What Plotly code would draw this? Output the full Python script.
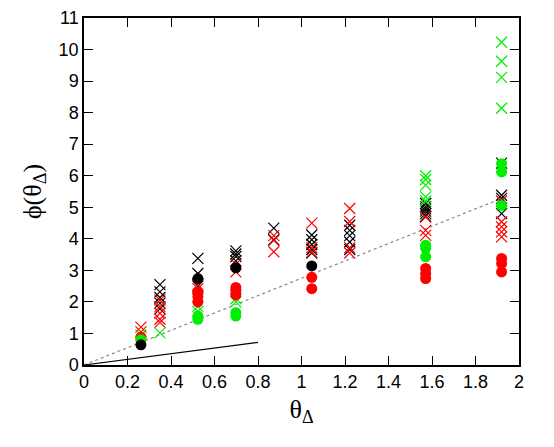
import plotly.graph_objects as go

# column positions (theta_Delta)
theta = [0.2618, 0.3491, 0.5236, 0.6981, 0.8727, 1.0472, 1.2217, 1.5708, 1.9199]

# phi values per column index, for each series
black_cross = {1: [2.55, 2.32, 2.14, 1.96, 1.78], 2: [3.38, 2.9, 2.5],
               3: [3.62, 3.52, 3.44, 3.3], 4: [4.34, 3.97],
               5: [4.12, 3.97, 3.82, 3.66, 3.55], 6: [4.43, 4.27, 4.1, 3.9, 3.66],
               7: [5.12, 5.02, 4.95, 4.88, 4.8, 4.72], 8: [6.4, 5.38, 5.28, 4.8]}
red_cross = {0: [1.2, 1.05], 1: [2.06, 1.85, 1.64, 1.45, 1.35], 2: [2.55, 2.42],
             3: [3.2, 2.95], 4: [4.1, 3.95, 3.59], 5: [4.5, 3.72, 3.58],
             6: [4.96, 4.55, 3.72, 3.55], 7: [4.69, 4.27, 4.11],
             8: [5.2, 4.54, 4.38, 4.22, 4.06]}
green_cross = {0: [0.95], 1: [1.02], 2: [1.85, 1.7], 3: [2.1, 2.0],
               7: [6.0, 5.88, 5.7, 5.33, 5.2], 8: [10.23, 9.63, 9.12, 8.14]}
red_dot = {0: [0.88], 2: [2.3, 2.17, 2.0], 3: [2.46, 2.36, 2.22], 5: [2.78, 2.42],
           7: [3.06, 2.9, 2.74], 8: [3.38, 3.22, 2.95]}
green_dot = {0: [0.8], 2: [1.55, 1.45], 3: [1.66, 1.55], 7: [3.8, 3.7, 3.43],
             8: [6.38, 6.12, 5.06]}
black_dot = {0: [0.64], 2: [2.74], 3: [3.08], 5: [3.14]}

# guide lines
dotted_x = [0, 1.92]
dotted_y = [0, 5.28]
solid_x = [0, 0.8]
solid_y = [0, 0.72]

y_ticks = list(range(0, 12))


def flatten(d):
    xs, ys = [], []
    for i, vals in d.items():
        for v in vals:
            xs.append(theta[i])
            ys.append(v)
    return xs, ys


fig = go.Figure()

fig.add_trace(go.Scatter(x=dotted_x, y=dotted_y, mode='lines',
                         line=dict(color='#888888', width=1.2, dash='dot')))
fig.add_trace(go.Scatter(x=solid_x, y=solid_y, mode='lines',
                         line=dict(color='black', width=1.2)))

for d, col in [(black_cross, 'black'), (red_cross, '#ff0000'), (green_cross, '#00ee00')]:
    xs, ys = flatten(d)
    fig.add_trace(go.Scatter(x=xs, y=ys, mode='markers',
                             marker=dict(symbol='x-thin', size=11,
                                         line=dict(color=col, width=1.2))))

for d, col in [(red_dot, '#ff0000'), (green_dot, '#00ee00'), (black_dot, 'black')]:
    xs, ys = flatten(d)
    fig.add_trace(go.Scatter(x=xs, y=ys, mode='markers',
                             marker=dict(symbol='circle', size=11, color=col)))

axis_common = dict(showgrid=False, zeroline=False, showline=True, linecolor='black',
                   linewidth=1.5, mirror='ticks', ticks='inside', ticklen=9,
                   tickcolor='black', tickwidth=1, automargin=False,
                   tickfont=dict(family='Liberation Sans', size=18, color='black'))

fig.update_layout(
    width=554, height=447,
    margin=dict(l=76, r=43, t=10, b=90),
    plot_bgcolor='white', paper_bgcolor='white',
    showlegend=False,
    xaxis=dict(range=[0, 2], dtick=0.2, tick0=0,
               title=dict(text='θ<sub>Δ</sub>', standoff=8,
                          font=dict(family='Liberation Serif', size=26, color='black')),
               **axis_common),
    yaxis=dict(range=[0, 11], tickvals=y_ticks,
               title=dict(text='ϕ(θ<sub>Δ</sub>)', standoff=10,
                          font=dict(family='Liberation Serif', size=26, color='black')),
               **axis_common),
)

fig.write_html("out.html")
